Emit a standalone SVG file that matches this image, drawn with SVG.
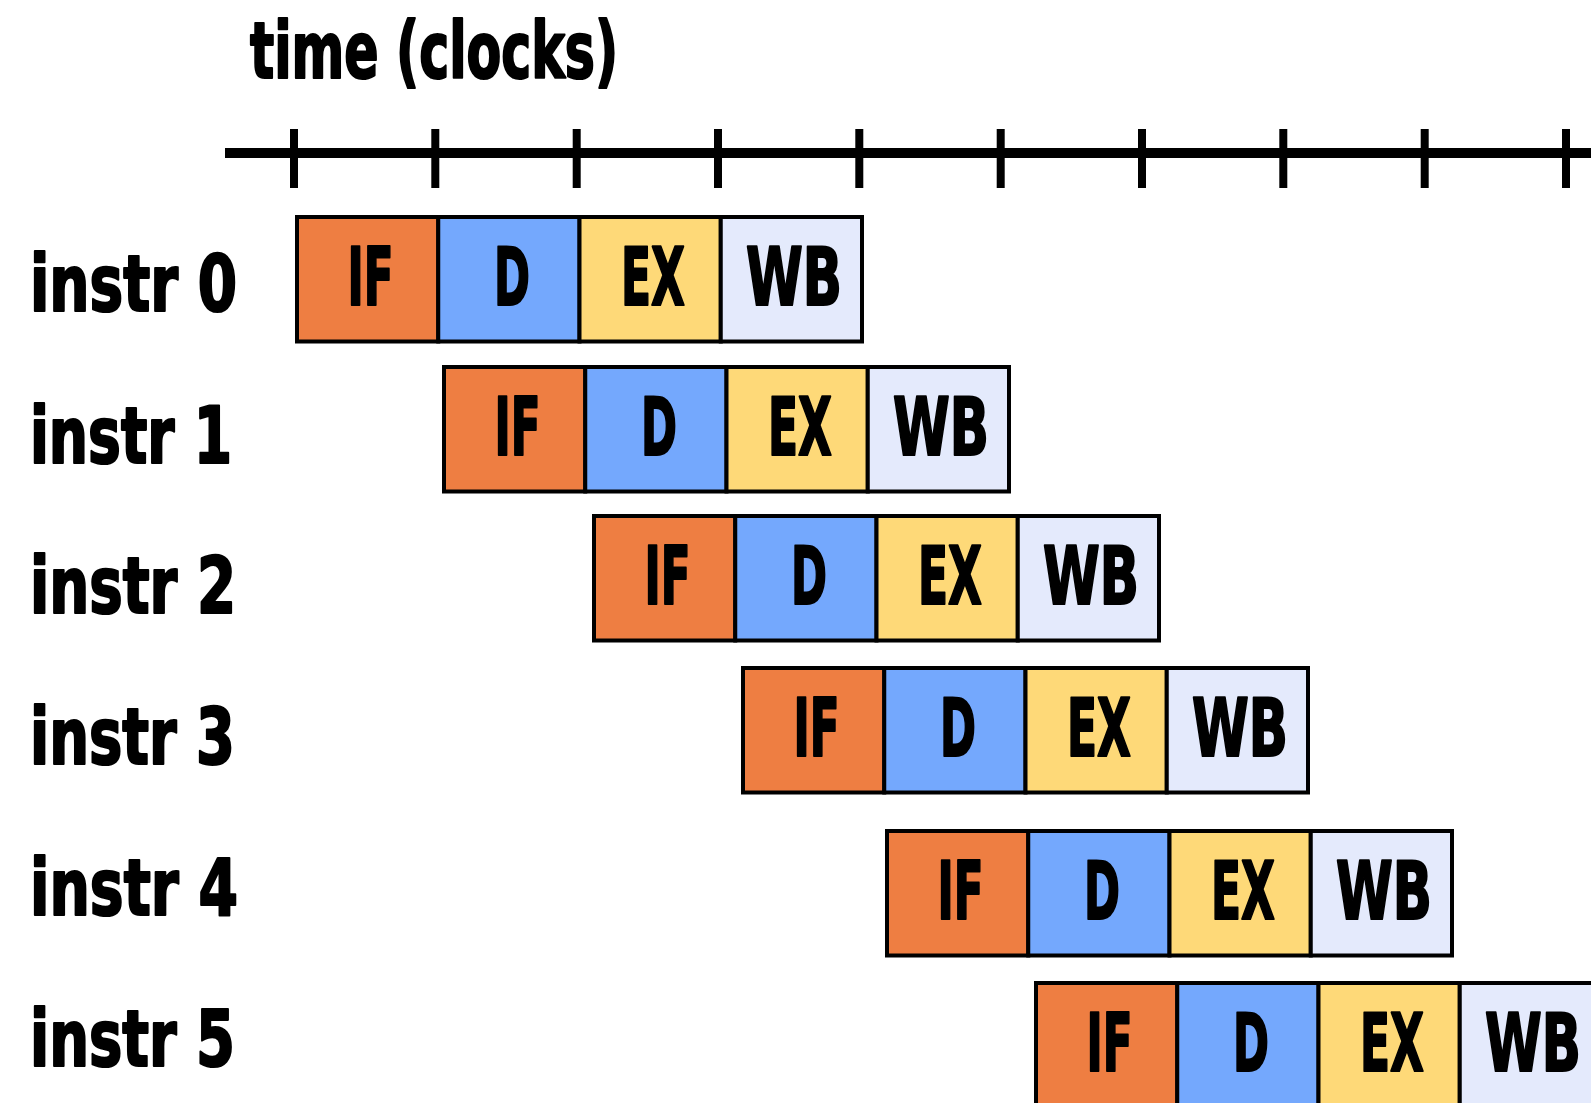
<svg xmlns="http://www.w3.org/2000/svg" width="1591" height="1103" viewBox="0 0 1591 1103">
  <style>
    text { font-family: "Liberation Sans Narrow", "DejaVu Sans Condensed", "Liberation Sans", sans-serif; font-weight: bold; fill: #000; stroke: #000; stroke-width: 2.2; stroke-linejoin: round; }
    .title, .row-label { font-size: 78px; }
    .stage-label { font-size: 81px; text-anchor: middle; }
    .cell { stroke: #000; stroke-width: 4; }
    .if { fill: #EE7E42; }
    .d { fill: #74A8FD; }
    .ex { fill: #FED978; }
    .wb { fill: #E4EAFC; }
    .axis { stroke: #000; fill: none; }
  </style>
  <defs>
    <!-- one instruction's four pipeline stages, drawn at the row origin -->
    <g id="pipe">
      <g id="stage-if">
        <rect class="cell if" x="0" y="0" width="141.25" height="124.5"/>
        <text class="stage-label" x="73.6" y="88" textLength="46" lengthAdjust="spacingAndGlyphs">IF</text>
      </g>
      <g id="stage-d">
        <rect class="cell d" x="141.25" y="0" width="141.25" height="124.5"/>
        <text class="stage-label" x="215" y="88" textLength="36" lengthAdjust="spacingAndGlyphs">D</text>
      </g>
      <g id="stage-ex">
        <rect class="cell ex" x="282.5" y="0" width="141.25" height="124.5"/>
        <text class="stage-label" x="356" y="88" textLength="64" lengthAdjust="spacingAndGlyphs">EX</text>
      </g>
      <g id="stage-wb">
        <rect class="cell wb" x="423.75" y="0" width="141.25" height="124.5"/>
        <text class="stage-label" x="497" y="88" textLength="96" lengthAdjust="spacingAndGlyphs">WB</text>
      </g>
    </g>
  </defs>

  <rect width="1591" height="1103" fill="#fff"/>

  <!-- time axis -->
  <g id="time-axis">
    <text class="title" x="250" y="78" textLength="368" lengthAdjust="spacingAndGlyphs">time (clocks)</text>
    <line class="axis" x1="225" y1="153" x2="1591" y2="153" stroke-width="10"/>
    <g class="axis" stroke-width="8">
      <line x1="294" y1="129" x2="294" y2="188"/>
      <line x1="435.3" y1="129" x2="435.3" y2="188"/>
      <line x1="576.7" y1="129" x2="576.7" y2="188"/>
      <line x1="718" y1="129" x2="718" y2="188"/>
      <line x1="859.3" y1="129" x2="859.3" y2="188"/>
      <line x1="1000.7" y1="129" x2="1000.7" y2="188"/>
      <line x1="1142" y1="129" x2="1142" y2="188"/>
      <line x1="1283.3" y1="129" x2="1283.3" y2="188"/>
      <line x1="1424.7" y1="129" x2="1424.7" y2="188"/>
      <line x1="1566" y1="129" x2="1566" y2="188"/>
    </g>
  </g>

  <!-- instruction row labels -->
  <g id="row-labels">
    <text class="row-label" x="30" y="311" textLength="207" lengthAdjust="spacingAndGlyphs">instr 0</text>
    <text class="row-label" x="30" y="463" textLength="202" lengthAdjust="spacingAndGlyphs">instr 1</text>
    <text class="row-label" x="30" y="613" textLength="206" lengthAdjust="spacingAndGlyphs">instr 2</text>
    <text class="row-label" x="30" y="764" textLength="205" lengthAdjust="spacingAndGlyphs">instr 3</text>
    <text class="row-label" x="30" y="915" textLength="208" lengthAdjust="spacingAndGlyphs">instr 4</text>
    <text class="row-label" x="30" y="1066" textLength="205" lengthAdjust="spacingAndGlyphs">instr 5</text>
  </g>

  <!-- pipeline rows -->
  <g id="instr-0" transform="translate(297 217)"><use href="#pipe"/></g>
  <g id="instr-1" transform="translate(444 367)"><use href="#pipe"/></g>
  <g id="instr-2" transform="translate(594 516)"><use href="#pipe"/></g>
  <g id="instr-3" transform="translate(743 668)"><use href="#pipe"/></g>
  <g id="instr-4" transform="translate(887 831)"><use href="#pipe"/></g>
  <g id="instr-5" transform="translate(1036 983)"><use href="#pipe"/></g>

  <!-- no connectors in this chart -->
  <g id="connectors"/>
</svg>
